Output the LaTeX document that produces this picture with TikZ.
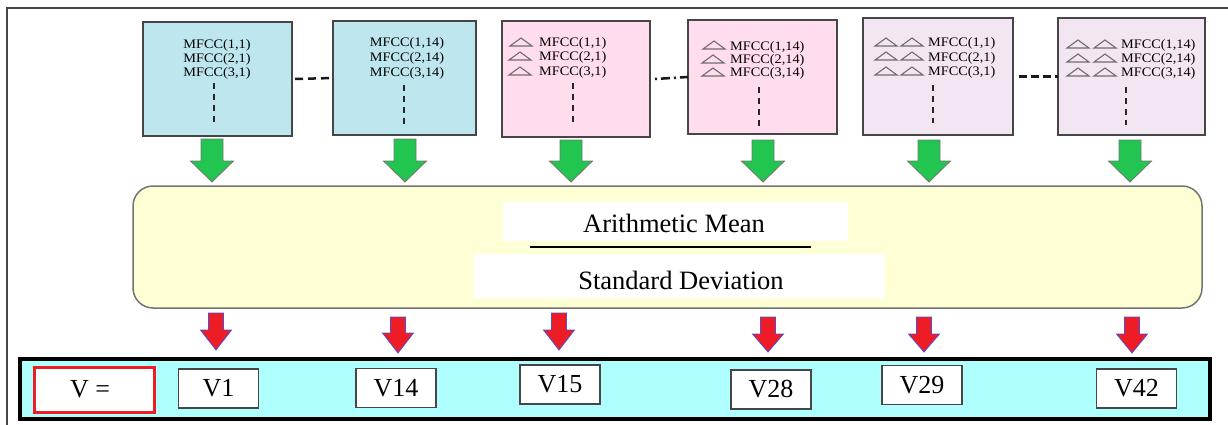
\documentclass[tikz,border=0pt]{standalone}
\usepackage{fontspec}
\setmainfont{Liberation Serif}
\newfontfamily\mfccfont[FakeStretch=1.1]{Liberation Serif}
\newfontfamily\bigfont[FakeStretch=1.0]{Liberation Serif}
\definecolor{boxblue}{RGB}{189,230,239}
\definecolor{boxpink}{RGB}{255,221,238}
\definecolor{boxlav}{RGB}{243,230,243}
\definecolor{boxyel}{RGB}{255,255,214}
\definecolor{arrgreen}{RGB}{34,197,80}
\definecolor{arrred}{RGB}{237,28,37}
\definecolor{arrblue}{RGB}{80,80,210}
\definecolor{contcyan}{RGB}{175,255,255}
\definecolor{framegray}{RGB}{70,70,70}
\definecolor{trigray}{RGB}{110,110,110}
\newcommand\mydownarrow[7]{%
  \draw[#1] (#2-#6,#3) -- (#2+#6,#3) -- (#2+#6,#4) -- (#2+#7,#4) -- (#2,#5)
    -- (#2-#7,#4) -- (#2-#6,#4) -- cycle;}
\newcommand\mytri[2]{%
  \draw[tri] (#1,#2+4) -- (#1+11,#2-4) -- (#1+22,#2+4) -- cycle;}
\tikzset{
  topbox/.style={draw=framegray, line width=1.5pt, inner sep=0pt, outer sep=0pt},
  mfcc/.style={font=\mfccfont\fontsize{13}{14}\selectfont, inner sep=0pt, align=center},
  mfccl/.style={font=\mfccfont\fontsize{13}{14}\selectfont, inner sep=0pt, anchor=west},
  vdash/.style={line width=1.8pt, draw=black!85, dash pattern=on 6pt off 5pt},
  tri/.style={draw=trigray, line width=1.1pt},
  boxlink/.style={line width=2.5pt, black!90},
  garrow/.style={fill=arrgreen, draw=black!55, line width=0.8pt},
  rarrow/.style={fill=arrred, draw=arrblue, line width=0.8pt},
  whitebox/.style={fill=white, draw=none, inner sep=0pt, outer sep=0pt},
  bigtext/.style={font=\bigfont\fontsize{26.5}{30}\selectfont, inner sep=0pt},
  vbox/.style={fill=white, draw=framegray, line width=1.2pt, minimum width=80pt, minimum height=39pt, inner sep=0pt, font=\bigfont\fontsize{26}{30}\selectfont},
}
\begin{document}
\begin{tikzpicture}[x=1pt,y=-1pt]
\useasboundingbox (0,0) rectangle (1228,425);
% outer frame
\draw[framegray, line width=1.5pt] (7,425) -- (7,8) -- (1228,8);

% top boxes
\node[topbox, fill=boxblue, minimum width=149pt, minimum height=114pt] (b1) at (217.5,79) {};
\node[topbox, fill=boxblue, minimum width=143pt, minimum height=114pt] (b2) at (404.5,78) {};
\node[topbox, fill=boxpink, minimum width=148pt, minimum height=116pt] (b3) at (576,79) {};
\node[topbox, fill=boxpink, minimum width=149pt, minimum height=114pt] (b4) at (762.5,77) {};
\node[topbox, fill=boxlav, minimum width=150pt, minimum height=117pt] (b5) at (938,76.5) {};
\node[topbox, fill=boxlav, minimum width=147pt, minimum height=117pt] (b6) at (1131.5,76.5) {};

% connectors between boxes
\draw[boxlink, dash pattern=on 8pt off 5pt] ([xshift=3pt]b1.east) -- (b2.west);
\draw[boxlink, dash pattern=on 2pt off 4pt on 9pt off 4pt] ([xshift=5pt]b3.east) -- (b4.west);
\draw[boxlink, dash pattern=on 8pt off 4pt] ([xshift=6pt]b5.east) -- (b6.west);

% box 1 text
\node[mfcc] (t1a) at (217,45) {MFCC(1,1)};
\node[mfcc] (t1b) at (217,59) {MFCC(2,1)};
\node[mfcc] (t1c) at (217,73) {MFCC(3,1)};
\draw[vdash] (214,83) -- (214,123);
% box 2 text
\node[mfcc] (t2a) at (407,43) {MFCC(1,14)};
\node[mfcc] (t2b) at (407,58) {MFCC(2,14)};
\node[mfcc] (t2c) at (407,73) {MFCC(3,14)};
\draw[vdash] (404,85) -- (404,125);
% box 3
\node[mfccl] (t3a) at (539,43) {MFCC(1,1)};
\node[mfccl] (t3b) at (539,57) {MFCC(2,1)};
\node[mfccl] (t3c) at (539,72) {MFCC(3,1)};
\mytri{510}{42}\mytri{509}{56}\mytri{509}{71}
\draw[vdash] (573,83) -- (573,123);
% box 4
\node[mfccl] (t4a) at (730,47) {MFCC(1,14)};
\node[mfccl] (t4b) at (730,60) {MFCC(2,14)};
\node[mfccl] (t4c) at (730,73) {MFCC(3,14)};
\mytri{703}{45}\mytri{702}{59}\mytri{702}{72}
\draw[vdash] (759,87) -- (759,128);
% box 5
\node[mfccl] (t5a) at (928,43) {MFCC(1,1)};
\node[mfccl] (t5b) at (928,58) {MFCC(2,1)};
\node[mfccl] (t5c) at (928,72) {MFCC(3,1)};
\mytri{875}{42}\mytri{901}{42}
\mytri{875}{56}\mytri{901}{56}
\mytri{875}{71}\mytri{901}{71}
\draw[vdash] (933,85) -- (933,123);
% box 6
\node[mfccl] (t6a) at (1121,45) {MFCC(1,14)};
\node[mfccl] (t6b) at (1121,59) {MFCC(2,14)};
\node[mfccl] (t6c) at (1121,73) {MFCC(3,14)};
\mytri{1067}{44}\mytri{1094}{44}
\mytri{1067}{58}\mytri{1094}{58}
\mytri{1067}{72}\mytri{1094}{72}
\draw[vdash] (1126,87) -- (1126,125);

% green arrows
\mydownarrow{garrow}{212}{139}{161}{182}{11}{21.5}
\mydownarrow{garrow}{405}{139}{161}{182}{11}{21.5}
\mydownarrow{garrow}{571}{140}{161}{182}{11}{21.5}
\mydownarrow{garrow}{763}{140}{161}{182}{11}{21.5}
\mydownarrow{garrow}{929}{140}{161}{182}{11}{21.5}
\mydownarrow{garrow}{1130}{140}{161}{182}{11}{21.5}

% yellow box
\node[draw=black!55, line width=1.5pt, fill=boxyel, rounded corners=20pt, minimum width=1069pt, minimum height=122pt, inner sep=0pt] (stat) at (667.5,247) {};
\node[whitebox, minimum width=345pt, minimum height=39pt] (amb) at (675.5,221.5) {};
\node[bigtext] (amt) at (674,223) {Arithmetic Mean};
\node[whitebox, minimum width=411pt, minimum height=44pt] (sdb) at (679.5,276) {};
\node[bigtext] (sdt) at (681,280) {Standard Deviation};
\coordinate (la) at (530,247);
\coordinate (lb) at (811,247);
\draw[line width=2pt, black] (la) -- (lb);

% red arrows
\mydownarrow{rarrow}{216}{313}{330}{350}{7.5}{15.5}
\mydownarrow{rarrow}{398}{317}{333}{353}{7.5}{15.5}
\mydownarrow{rarrow}{559}{313}{330}{350}{7.5}{15.5}
\mydownarrow{rarrow}{768}{317}{334}{352}{7.5}{15.5}
\mydownarrow{rarrow}{924}{317}{334}{352}{7.5}{15.5}
\mydownarrow{rarrow}{1132}{317}{334}{353}{7.5}{15.5}

% bottom container
\node[draw=black, line width=3.5pt, fill=contcyan, minimum width=1190pt, minimum height=60pt, inner sep=0pt] (vec) at (615,389) {};
\node[draw=arrred, line width=3pt, fill=white, minimum width=120pt, minimum height=45pt, inner sep=0pt, font=\bigfont\fontsize{26}{30}\selectfont] (veq) at (94,389.5) {V =\hspace*{8pt}};
\node[vbox] (v1) at (218.5,388.5) {V1};
\node[vbox] (v14) at (396,388) {V14};
\node[vbox] (v15) at (560,384.5) {V15};
\node[vbox] (v28) at (771,389.5) {V28};
\node[vbox] (v29) at (922,385) {V29};
\node[vbox] (v42) at (1136.5,388.5) {V42};
\end{tikzpicture}
\end{document}
